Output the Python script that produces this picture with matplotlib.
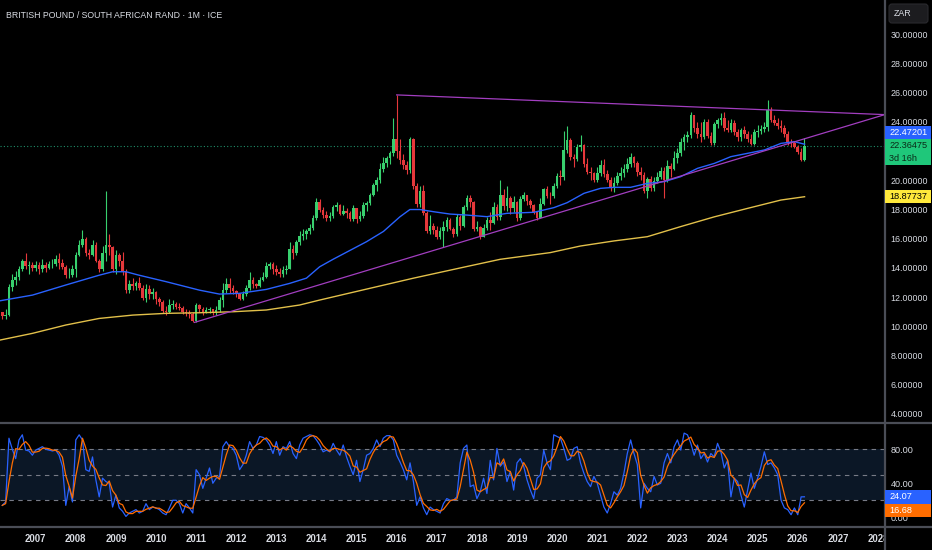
import numpy as np
import pandas as pd
import matplotlib
matplotlib.use("Agg")
import matplotlib.pyplot as plt
from matplotlib.patches import Rectangle, FancyBboxPatch
from matplotlib.lines import Line2D
from matplotlib.transforms import IdentityTransform

# ---- data (monthly GBP/ZAR), first bar = Mar 2006 ----
first_year, first_month = 2006, 3
first_open = 10.95

close = [
    # 2006 (Mar-Dec)
    10.7, 10.75, 12.7, 13.2, 13.4, 13.9, 14.5, 14.1, 14.2, 14.0,
    # 2007
    14.2, 13.9, 14.2, 14.0, 14.25, 14.3, 14.6, 14.35, 14.05, 13.5, 13.55, 13.9,
    # 2008
    14.9, 15.6, 16.0, 15.0, 14.9, 15.6, 14.5, 13.9, 15.0, 15.6, 15.4, 13.9,
    # 2009
    14.9, 14.45, 13.75, 12.5, 12.9, 12.75, 12.95, 12.65, 11.95, 12.55, 12.2, 12.35,
    # 2010
    11.9, 11.7, 11.05, 11.0, 11.45, 11.55, 11.35, 11.25, 10.95, 10.9, 10.85, 10.35,
    # 2011
    11.45, 11.2, 10.95, 11.1, 11.2, 10.95, 11.1, 11.8, 12.5, 12.9, 12.6, 12.4,
    # 2012
    12.2, 11.9, 12.2, 12.6, 13.2, 12.9, 12.75, 13.2, 13.4, 14.15, 14.3, 13.9,
    # 2013
    13.75, 13.6, 13.85, 13.95, 15.3, 15.0, 15.8, 16.2, 16.35, 16.5, 16.75, 17.4,
    # 2014
    18.5, 18.0, 17.6, 17.45, 17.55, 18.15, 18.3, 17.7, 17.9, 17.75, 17.35, 18.1,
    # 2015
    17.35, 17.55, 18.3, 18.45, 19.0, 19.7, 20.0, 20.8, 21.2, 21.5, 21.85, 22.8,
    # 2016
    22.0, 21.4, 21.05, 20.7, 22.8, 19.6, 18.4, 19.3, 17.75, 16.5, 16.9, 16.6,
    # 2017
    16.15, 16.5, 16.8, 17.3, 16.7, 16.3, 17.5, 16.9, 18.2, 18.8, 18.5, 16.7,
    # 2018
    16.8, 16.15, 16.75, 17.3, 17.1, 18.2, 17.5, 19.0, 18.25, 18.8, 18.1, 18.5,
    # 2019
    17.4, 18.7, 19.0, 18.6, 18.3, 17.85, 17.45, 18.4, 19.4, 18.95, 18.9, 19.6,
    # 2020
    20.3, 20.25, 22.1, 22.75, 21.6, 21.45, 22.3, 22.45, 21.1, 20.6, 20.5, 20.05,
    # 2021
    20.5, 21.05, 20.45, 20.05, 19.45, 19.85, 20.3, 20.5, 20.8, 21.15, 21.6, 21.2,
    # 2022
    20.6, 20.35, 19.3, 20.1, 19.45, 19.95, 20.25, 20.65, 20.0, 21.0, 20.8, 21.5,
    # 2023
    21.85, 22.6, 22.95, 23.1, 24.5, 23.6, 23.15, 22.95, 24.0, 23.05, 22.55, 23.85,
    # 2024
    24.1, 24.25, 23.6, 23.45, 23.95, 23.3, 22.95, 23.45, 23.2, 22.8, 22.5, 23.3,
    # 2025
    23.4, 23.5, 23.65, 24.8, 24.15, 23.95, 23.75, 23.6, 23.15, 22.65, 22.55, 22.3,
    # 2026 (Jan-Mar)
    21.95, 21.4, 22.36475,
]

high = [
    11.0, 11.2, 12.9, 13.6, 13.8, 14.1, 14.6, 15.0, 14.5, 14.4,
    14.5, 14.4, 14.6, 14.4, 14.5, 14.6, 14.9, 15.0, 14.6, 14.2, 14.0, 14.2,
    15.1, 15.9, 16.6, 16.1, 15.3, 15.9, 15.8, 14.6, 15.5, 19.3, 16.3, 15.5,
    15.2, 15.0, 15.1, 13.9, 13.2, 13.3, 13.1, 13.4, 12.8, 12.9, 12.8, 12.6,
    12.4, 12.0, 11.8, 11.4, 11.9, 11.8, 11.7, 11.6, 11.4, 11.2, 11.1, 10.95,
    11.6, 11.5, 11.3, 11.3, 11.3, 11.2, 11.4, 12.0, 12.95, 13.3, 13.3, 12.8,
    12.5, 12.3, 12.4, 12.8, 13.7, 13.4, 13.0, 13.4, 13.7, 14.4, 14.4, 14.4,
    14.2, 14.0, 14.1, 14.2, 15.8, 15.6, 15.9, 16.5, 16.7, 16.7, 17.0, 17.6,
    18.8, 18.7, 18.2, 17.9, 17.8, 18.3, 18.5, 18.4, 18.3, 18.1, 17.9, 18.3,
    18.1, 17.9, 18.5, 18.6, 19.1, 19.8, 20.2, 21.2, 21.6, 21.7, 22.0, 24.3,
    25.85, 22.8, 21.8, 21.3, 23.0, 22.9, 19.8, 19.6, 19.7, 17.9, 17.6, 17.1,
    16.9, 16.8, 17.2, 17.5, 17.4, 16.8, 17.7, 17.6, 18.3, 19.0, 19.0, 18.6,
    17.2, 16.9, 17.0, 17.5, 17.8, 18.5, 18.4, 20.0, 19.4, 19.6, 18.9, 18.9,
    18.6, 18.9, 19.2, 19.0, 18.7, 18.4, 17.9, 18.8, 19.5, 19.6, 19.2, 19.8,
    20.5, 20.7, 23.4, 23.7, 22.9, 21.8, 22.5, 23.1, 22.5, 21.5, 20.9, 20.6,
    20.9, 21.4, 21.45, 20.7, 20.2, 20.2, 20.6, 20.9, 21.1, 21.5, 21.9, 21.7,
    21.3, 20.9, 20.6, 20.2, 20.3, 20.2, 20.6, 20.9, 20.9, 21.4, 21.2, 22.0,
    22.2, 22.9, 23.2, 23.4, 24.7, 24.5, 24.0, 24.0, 24.2, 24.2, 23.3, 24.0,
    24.3, 24.6, 24.7, 24.1, 24.2, 24.1, 23.5, 23.6, 23.7, 23.4, 23.2, 23.5,
    23.8, 23.8, 24.0, 25.5, 25.0, 24.5, 24.3, 24.1, 23.8, 23.4, 22.8, 22.7,
    22.4, 22.2, 22.9,
]

low = [
    10.5, 10.5, 10.7, 12.4, 12.8, 13.2, 13.8, 13.9, 13.6, 13.8,
    13.8, 13.6, 13.7, 13.7, 13.9, 14.0, 14.1, 13.9, 13.9, 13.3, 13.3, 13.4,
    13.4, 14.8, 15.4, 14.8, 14.6, 14.8, 14.4, 13.7, 13.8, 14.5, 14.9, 13.7,
    13.6, 14.1, 13.5, 12.3, 12.3, 12.5, 12.5, 12.5, 11.8, 11.7, 11.9, 11.9,
    11.5, 11.4, 10.9, 10.8, 10.9, 11.2, 11.2, 11.1, 10.85, 10.7, 10.6, 10.27,
    10.3, 11.0, 10.8, 10.9, 10.9, 10.8, 10.8, 11.0, 11.3, 12.3, 12.3, 12.2,
    12.0, 11.8, 11.8, 12.1, 12.5, 12.6, 12.6, 12.7, 13.1, 13.3, 13.9, 13.6,
    13.5, 13.4, 13.4, 13.6, 13.9, 14.6, 14.9, 15.6, 15.9, 16.0, 16.3, 16.6,
    17.3, 17.8, 17.4, 17.2, 17.2, 17.4, 17.9, 17.6, 17.6, 17.4, 17.2, 17.2,
    17.1, 17.2, 17.4, 17.9, 18.3, 18.9, 19.3, 19.8, 20.6, 20.9, 21.1, 21.7,
    21.5, 21.1, 20.8, 20.4, 20.5, 19.4, 18.2, 18.2, 17.6, 16.4, 16.3, 16.3,
    16.0, 16.0, 15.45, 16.5, 16.6, 16.1, 16.2, 16.6, 16.8, 18.0, 18.2, 16.5,
    16.5, 16.0, 16.1, 16.6, 16.6, 17.0, 17.3, 17.3, 18.0, 17.9, 17.7, 17.8,
    17.2, 17.3, 18.6, 18.3, 18.1, 17.7, 17.3, 17.4, 18.3, 18.8, 18.4, 18.8,
    19.5, 19.7, 20.0, 21.9, 21.4, 20.9, 21.3, 22.0, 20.9, 20.4, 20.0, 19.9,
    19.9, 20.3, 20.2, 19.9, 19.3, 19.2, 19.7, 20.0, 20.2, 20.6, 20.9, 20.9,
    20.3, 20.0, 19.1, 18.8, 19.3, 19.3, 19.8, 20.1, 18.8, 19.9, 20.2, 20.7,
    21.2, 21.7, 22.1, 22.6, 22.9, 23.3, 22.9, 22.6, 22.8, 22.9, 22.4, 22.4,
    23.6, 23.8, 23.4, 23.3, 23.3, 23.1, 22.7, 22.7, 22.9, 22.6, 22.4, 22.4,
    23.0, 23.2, 23.3, 23.4, 24.0, 23.8, 23.5, 23.3, 23.0, 22.4, 22.3, 22.2,
    21.8, 21.3, 21.3,
]

# moving averages as drawn on the chart (decimal year, value)
ma_fast_t = [2006.11, 2006.92, 2007.75, 2008.58, 2008.92, 2009.25, 2009.58, 2010.25,
             2011.08, 2011.58, 2012.08, 2012.75, 2013.33, 2013.75, 2014.08, 2014.42,
             2015.25, 2015.67, 2016.08, 2016.33, 2016.58, 2016.92, 2017.33, 2017.75,
             2018.25, 2018.75, 2019.42, 2019.92, 2020.25, 2020.67, 2021.08, 2021.42,
             2021.83, 2022.25, 2022.67, 2023.08, 2023.5, 2023.92, 2024.33, 2024.75,
             2025.17, 2025.58, 2025.92, 2026.17]
ma_fast_v = [11.75, 12.14, 12.83, 13.5, 13.74, 13.74, 13.5, 13.06,
             12.48, 12.21, 12.26, 12.53, 12.94, 13.3, 14.08, 14.6,
             15.8, 16.5, 17.5, 18.0, 18.0, 17.85, 17.69, 17.62,
             17.51, 17.74, 17.81, 18.13, 18.47, 19.11, 19.45, 19.52,
             19.52, 19.79, 19.91, 20.25, 20.82, 21.16, 21.62, 21.85,
             22.08, 22.53, 22.65, 22.47201]

ma_slow_t = [2006.11, 2006.92, 2007.75, 2008.58, 2009.42, 2010.25, 2011.08, 2011.92,
             2012.75, 2013.58, 2014.08, 2015.17, 2016.42, 2017.67, 2018.58, 2019.83,
             2020.58, 2021.42, 2022.25, 2023.08, 2023.92, 2024.75, 2025.58, 2026.17]
ma_slow_v = [9.06, 9.52, 10.09, 10.54, 10.77, 10.89, 10.93, 11.0,
             11.12, 11.46, 11.8, 12.5, 13.3, 14.05, 14.59, 15.05,
             15.5, 15.85, 16.14, 16.83, 17.5, 18.08, 18.65, 18.87737]

# triangle drawing: low anchor, spike high, apex
tri_t = [2010.96, 2016.0, 2028.17]
tri_v = [10.27, 25.85, 24.5]

# stochastic RSI %K, one value per bar
stoch_k = [
    14, 18, 93, 80, 69, 91, 97, 79, 78, 73, 79, 81, 83, 80, 79, 78, 79, 73, 60, 14,
    36, 18, 91, 97, 91, 56, 54, 71, 44, 24, 46, 42, 40, 12, 26, 11, 7, 1, 5, 7,
    9, 5, 7, 16, 9, 12, 11, 9, 5, 3, 11, 20, 20, 16, 5, 16, 11, 5, 56, 50,
    34, 46, 58, 40, 46, 48, 83, 89, 83, 81, 73, 56, 62, 73, 89, 81, 85, 95, 94, 91,
    85, 75, 89, 73, 83, 81, 89, 75, 69, 85, 93, 95, 97, 96, 91, 85, 77, 79, 77, 87,
    79, 73, 85, 71, 60, 50, 67, 42, 56, 73, 75, 81, 91, 83, 93, 96, 96, 91, 73, 65,
    56, 44, 64, 42, 14, 24, 11, 3, 12, 9, 7, 5, 16, 22, 20, 20, 24,
    64, 81, 85, 36, 38, 22, 30, 46, 28, 67, 44, 81, 60, 65, 42, 54, 32, 64, 69, 60,
    44, 32, 22, 46, 50, 79, 64, 56, 97, 95, 93, 81, 67, 69, 81, 83, 64, 52, 42, 36,
    48, 40, 26, 12, 5, 16, 30, 26, 34, 52, 75, 91, 75, 62, 11, 40, 34, 30, 48, 38,
    40, 64, 75, 64, 83, 91, 79, 99, 97, 87, 73, 85, 69, 75, 65, 75, 71, 87, 77, 58,
    67, 24, 46, 42, 26, 12, 32, 52, 34, 46, 60, 77, 62, 64, 58, 50, 20, 11, 9, 3,
    11, 3, 24, 24.07,
]

title = "BRITISH POUND / SOUTH AFRICAN RAND \u00b7 1M \u00b7 ICE"
price_ticks = list(range(4, 31, 2))
stoch_ticks = [0, 40, 80]
years = list(range(2007, 2029))

# ---- colours ----
BG = "#000000"
TXT = "#d8dbe2"
UP = "#38d06e"
DOWN = "#e5383b"
BLUE = "#2962ff"
YELLOW = "#e2c04a"
PURPLE = "#a23ec0"
ORANGE = "#ff6d00"
SEP = "#4a4d56"
FONT = ["Liberation Sans Narrow", "Liberation Sans", "DejaVu Sans"]

W, H = 932, 550
fig = plt.figure(figsize=(W / 100, H / 100), dpi=100, facecolor=BG)

ax = fig.add_axes([0, 127 / H, 885 / W, 423 / H], facecolor=BG)
ax2 = fig.add_axes([0, 23.3 / H, 885 / W, 103.7 / H], facecolor=BG)

x0, x1 = 2006.11, 2028.175
for a in (ax, ax2):
    a.set_xlim(x0, x1)
    for s in a.spines.values():
        s.set_visible(False)
    a.yaxis.tick_right()
    a.tick_params(length=0, colors=TXT)

# ---- candles ----
n = len(close)
t = np.array([first_year + (first_month - 1 + i) / 12 for i in range(n)])
c = np.array(close)
o = np.r_[first_open, c[:-1]]
h = np.array(high)
l = np.array(low)
col = np.where(c >= o, UP, DOWN)

ax.vlines(t, l, h, colors=col, lw=0.8, zorder=3)
body = np.maximum(np.abs(c - o), 0.05)
ax.bar(t, body, bottom=np.minimum(o, c), width=0.78 / 12, color=col, lw=0, zorder=4)

ax.plot(ma_fast_t, ma_fast_v, color=BLUE, lw=1.0, zorder=5)
ax.plot(ma_slow_t, ma_slow_v, color=YELLOW, lw=1.0, zorder=5)
ax.plot([tri_t[0], tri_t[2]], [tri_v[0], tri_v[2]], color=PURPLE, lw=0.9, zorder=6)
ax.plot([tri_t[1], tri_t[2]], [tri_v[1], tri_v[2]], color=PURPLE, lw=0.9, zorder=6)
ax.axhline(close[-1], color="#1f8f6a", lw=0.8, ls=(0, (1, 2)), zorder=2)

ax.set_ylim(3.38, 32.35)
ax.set_yticks(price_ticks)
ax.set_yticklabels([f"{v:.5f}" for v in price_ticks], fontsize=6.4, family=FONT)
ax.tick_params(axis="y", pad=4)
ax.set_xticks([])

# ---- stochastic RSI ----
k = np.array(stoch_k)
d = pd.Series(k).rolling(3, min_periods=1).mean().values
ax2.axhspan(20, 80, color="#0b1726", lw=0, zorder=0)
for lvl in (20, 50, 80):
    ax2.axhline(lvl, color="#787b86", lw=0.8, ls=(0, (4, 4)), zorder=1)
ax2.plot(t, k, color=BLUE, lw=0.9, zorder=3)
ax2.plot(t, d, color=ORANGE, lw=0.9, zorder=4)
ax2.set_ylim(-11.1, 110.9)
ax2.set_yticks(stoch_ticks)
ax2.set_yticklabels([f"{v:.2f}" for v in stoch_ticks], fontsize=6.6, family=FONT)
ax2.tick_params(axis="y", pad=4)
ax2.set_xticks(years)
ax2.set_xticklabels([str(y) for y in years], fontsize=6.9, family=FONT, fontweight="bold")
ax2.tick_params(axis="x", pad=5)

# ---- separators, title, corner box ----
ident = IdentityTransform()
fig.add_artist(Rectangle((885, 0), 47, 23, transform=ident, fc=BG, ec="none", zorder=2))
for seg in (((0, W), (127, 127)), ((0, W), (23.3, 23.3)), ((885, 885), (0, H))):
    fig.add_artist(Line2D(seg[0], seg[1], transform=ident, color=SEP, lw=1.6, zorder=3))

fig.text(6 / W, 1 - 15 / H, title, color=TXT, fontsize=6.3, family=FONT, va="center")
fig.add_artist(FancyBboxPatch((889, H - 23), 39, 19, boxstyle="round,pad=0,rounding_size=3",
                              transform=ident, fc="#1c1c1f", ec="#2a2a2e", lw=0.8, zorder=3))
fig.text(894 / W, 1 - 14 / H, "ZAR", color=TXT, fontsize=6.4, family=FONT, va="center", zorder=4)


def tag(axis, value, lines, fc, tc, shift=0.0, hgt=13.5):
    yd = axis.transData.transform((x1, value))[1] + shift
    fig.add_artist(Rectangle((885, yd - hgt + 6.75), 46, hgt, transform=ident, fc=fc, ec="none", zorder=5))
    for i, s in enumerate(lines):
        fig.text(889 / W, (yd - 12.5 * i) / H, s, color=tc, fontsize=6.6, family=FONT,
                 va="center", zorder=6)
    return yd


tag(ax, close[-1], ["22.36475", "3d 16h"], "#1fc77a", "#0a2a18", hgt=26)
tag(ax, close[-1], ["22.47201"], BLUE, "white", shift=13.5)
tag(ax, ma_slow_v[-1], ["18.87737"], "#ffe93b", "black")
tag(ax2, k[-1], ["24.07"], BLUE, "white")
tag(ax2, k[-1], ["16.68"], ORANGE, "white", shift=-13.5)

fig.savefig("out.png", dpi=100, facecolor=BG)
